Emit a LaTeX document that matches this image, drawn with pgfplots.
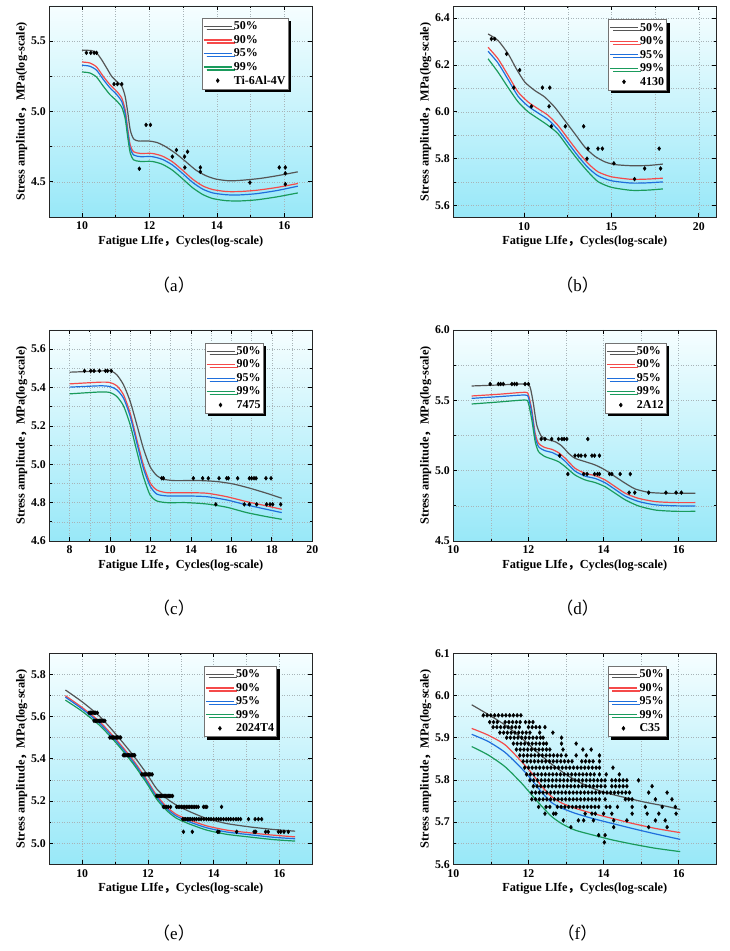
\documentclass[border=0pt]{standalone}
\usepackage{fontspec}
\setmainfont{Liberation Serif}
\newfontfamily\cjk{Noto Sans CJK SC}
\usepackage{pgfplots}
\pgfplotsset{compat=1.18}
\usetikzlibrary{shadows}

\definecolor{c50}{HTML}{555555}
\definecolor{c90}{HTML}{F54A4A}
\definecolor{c95}{HTML}{1F6FDC}
\definecolor{c99}{HTML}{1A9B5C}
\definecolor{bgtop}{HTML}{F6FEFF}
\definecolor{bgbot}{HTML}{98E8F8}
\definecolor{gridc}{HTML}{A8B4B8}

\pgfplotsset{
  panel/.style={
    scale only axis, width=263pt, height=211pt, anchor=south west,
    axis background/.style={top color=bgtop, bottom color=bgbot},
    grid=both,
    grid style={dotted, gridc, line width=0.5pt},
    minor grid style={dotted, gridc, line width=0.5pt},
    major grid style={dotted, gridc, line width=0.5pt},
    minor tick num=1,
    tick align=inside,
    major tick length=4pt, minor tick length=2.2pt,
    every tick/.style={black, line width=0.7pt},
    axis line style={line width=0.9pt, black!85},
    scaled ticks=false,
    /pgf/number format/assume math mode=true,
    tick label style={font=\fontsize{11.8}{13}\selectfont\bfseries},
    xticklabel={\textbf{\pgfmathprintnumber[assume math mode=true]{\tick}}},
    yticklabel={\textbf{\pgfmathprintnumber[assume math mode=true,fixed,fixed zerofill,precision=1]{\tick}}},
    xticklabel style={yshift=-1.5pt},
    xlabel={Fatigue LIfe{\cjk ，}Cycles(log-scale)},
    ylabel={Stress amplitude{\cjk ，}MPa(log-scale)},
    label style={font=\fontsize{12.3}{14}\selectfont\bfseries},
    xlabel style={at={(axis description cs:0.5,-0.117)}, anchor=center},
    ylabel style={at={(axis description cs:-0.105,0.5)}, anchor=center},
    legend cell align=left,
    legend image code/.code={\draw[mark repeat=2,mark phase=2,#1] plot coordinates {(0pt,0pt) (14pt,0pt) (28pt,0pt)};},
    legend style={anchor=north east, draw=black!55, line width=0.5pt, fill=white,
      font=\fontsize{12}{13}\selectfont\bfseries,
      inner xsep=1pt, inner ysep=1.5pt, row sep=0pt,
      nodes={inner xsep=1.5pt, inner ysep=2pt},
      drop shadow={shadow xshift=3pt, shadow yshift=-3pt, fill=black, opacity=1}},
  },
  l50/.style={color=c50, line width=1.2pt, smooth, tension=0.4, no marks},
  l90/.style={color=c90, line width=1.2pt, smooth, tension=0.4, no marks},
  l95/.style={color=c95, line width=1.2pt, smooth, tension=0.4, no marks},
  l99/.style={color=c99, line width=1.2pt, smooth, tension=0.4, no marks},
  pts/.style={only marks, mark=diamond*, mark size=2pt, color=black},
}

\begin{document}
\begin{tikzpicture}
\useasboundingbox (0,0) rectangle (730pt,951pt);

% ---------------- (a) ----------------
\begin{axis}[panel, at={(49.3pt,734pt)}, xmin=9.03, xmax=16.83, ymin=4.25, ymax=5.75,
  xtick={10,12,14,16}, ytick={4.5,5.0,5.5}, legend style={at={(0.909,0.943)}}]
\addplot[l50] coordinates {(10,5.436)(10.28,5.433)(10.43,5.417)(10.58,5.369)(10.73,5.31)(10.88,5.25)(11.03,5.214)(11.18,5.18)(11.28,5.107)(11.36,4.988)(11.43,4.869)(11.53,4.805)(11.68,4.79)(11.98,4.79)(12.23,4.779)(12.48,4.75)(12.78,4.702)(13.08,4.643)(13.38,4.583)(13.68,4.543)(13.98,4.519)(14.38,4.507)(14.78,4.512)(15.28,4.524)(15.78,4.543)(16.4,4.571)};
\addlegendentry{50\%}
\addplot[l90] coordinates {(10,5.352)(10.23,5.345)(10.43,5.317)(10.63,5.25)(10.83,5.19)(11.03,5.143)(11.18,5.095)(11.28,5.012)(11.36,4.869)(11.43,4.762)(11.53,4.714)(11.73,4.702)(12.08,4.702)(12.38,4.683)(12.68,4.643)(12.98,4.583)(13.28,4.519)(13.58,4.471)(13.88,4.445)(14.28,4.431)(14.68,4.431)(15.18,4.44)(15.78,4.46)(16.4,4.488)};
\addlegendentry{90\%}
\addplot[l95] coordinates {(10,5.329)(10.23,5.322)(10.43,5.294)(10.63,5.228)(10.83,5.168)(11.03,5.12)(11.18,5.07)(11.28,4.985)(11.36,4.845)(11.43,4.739)(11.53,4.691)(11.73,4.679)(12.08,4.679)(12.38,4.66)(12.68,4.62)(12.98,4.56)(13.28,4.496)(13.58,4.448)(13.88,4.421)(14.28,4.408)(14.68,4.407)(15.18,4.416)(15.78,4.438)(16.4,4.469)};
\addlegendentry{95\%}
\addplot[l99] coordinates {(10,5.281)(10.23,5.274)(10.43,5.245)(10.63,5.18)(10.83,5.12)(11.03,5.075)(11.18,5.03)(11.28,4.95)(11.36,4.81)(11.43,4.705)(11.53,4.656)(11.73,4.645)(12.08,4.645)(12.38,4.625)(12.68,4.583)(12.98,4.522)(13.28,4.458)(13.58,4.41)(13.88,4.381)(14.28,4.366)(14.68,4.364)(15.18,4.372)(15.78,4.393)(16.4,4.421)};
\addlegendentry{99\%}
\addplot[pts] coordinates {(10.13,5.417)(10.26,5.417)(10.36,5.417)(10.43,5.417)(10.95,5.195)(11.05,5.195)(11.18,5.195)(11.9,4.905)(12.03,4.905)(11.70,4.593)(12.68,4.679)(12.8,4.726)(13.04,4.679)(13.13,4.714)(13.05,4.602)(13.51,4.602)(13.51,4.571)(14.98,4.495)(15.85,4.602)(16.03,4.602)(16.03,4.56)(16.03,4.483)};
\addlegendentry{Ti-6Al-4V}
\end{axis}

% ---------------- (b) ----------------
\begin{axis}[panel, at={(453.3pt,733.7pt)}, xmin=5.95, xmax=21, ymin=5.55, ymax=6.45,
  xtick={10,15,20}, ytick={5.6,5.8,6.0,6.2,6.4}, legend style={at={(0.812,0.938)}}]
\addplot[l50] coordinates {(7.94,6.332)(8.51,6.304)(9.09,6.247)(9.56,6.183)(10.04,6.127)(10.61,6.091)(11.18,6.063)(11.75,6.02)(12.32,5.964)(12.9,5.907)(13.47,5.85)(14.04,5.811)(14.61,5.787)(15.18,5.775)(16.13,5.77)(17.09,5.771)(17.94,5.777)};
\addlegendentry{50\%}
\addplot[l90] coordinates {(7.94,6.275)(8.51,6.226)(9.09,6.155)(9.66,6.084)(10.23,6.042)(10.8,6.013)(11.37,5.985)(11.94,5.942)(12.51,5.886)(13.09,5.829)(13.66,5.78)(14.23,5.744)(14.99,5.723)(16.13,5.712)(17.09,5.713)(17.94,5.717)};
\addlegendentry{90\%}
\addplot[l95] coordinates {(7.94,6.258)(8.51,6.208)(9.09,6.137)(9.66,6.066)(10.23,6.024)(10.8,5.995)(11.37,5.967)(11.94,5.924)(12.51,5.868)(13.09,5.811)(13.66,5.762)(14.23,5.727)(14.99,5.706)(16.13,5.696)(17.09,5.697)(17.94,5.701)};
\addlegendentry{95\%}
\addplot[l99] coordinates {(7.94,6.226)(8.51,6.169)(9.09,6.103)(9.66,6.042)(10.23,6.0)(10.8,5.971)(11.37,5.942)(11.94,5.907)(12.51,5.85)(13.09,5.794)(13.66,5.744)(14.23,5.702)(14.99,5.678)(16.13,5.665)(17.09,5.666)(17.94,5.671)};
\addlegendentry{99\%}
\addplot[pts] coordinates {(8.13,6.311)(8.32,6.311)(9.0,6.247)(9.75,6.178)(9.41,6.103)(11.05,6.103)(11.47,6.103)(10.42,6.023)(11.43,6.023)(11.56,5.938)(12.36,5.938)(13.41,5.938)(13.66,5.843)(14.23,5.843)(14.48,5.843)(13.6,5.8)(15.14,5.78)(16.9,5.758)(17.81,5.758)(17.73,5.843)(16.32,5.713)};
\addlegendentry{4130}
\end{axis}

% ---------------- (c) ----------------
\begin{axis}[panel, at={(49.3pt,410pt)}, xmin=7, xmax=20, ymin=4.6, ymax=5.7,
  xtick={8,10,12,14,16,18,20}, ytick={4.6,4.8,5.0,5.2,5.4,5.6}, legend style={at={(0.814,0.94)}}]
\addplot[l50] coordinates {(8,5.48)(9,5.484)(10,5.487)(10.34,5.466)(10.67,5.414)(11.0,5.327)(11.33,5.205)(11.65,5.083)(11.98,4.988)(12.31,4.941)(12.64,4.922)(13.14,4.915)(13.79,4.915)(14.45,4.915)(15.28,4.91)(16.1,4.897)(16.92,4.875)(17.74,4.849)(18.49,4.823)};
\addlegendentry{50\%}
\addplot[l90] coordinates {(8,5.419)(9.51,5.428)(10,5.426)(10.34,5.409)(10.67,5.362)(11.0,5.266)(11.33,5.127)(11.65,4.997)(11.98,4.904)(12.31,4.866)(12.81,4.852)(13.79,4.852)(14.78,4.849)(15.77,4.831)(16.76,4.805)(17.74,4.783)(18.49,4.765)};
\addlegendentry{90\%}
\addplot[l95] coordinates {(8,5.402)(9.51,5.409)(10,5.405)(10.34,5.388)(10.67,5.344)(11.0,5.249)(11.33,5.11)(11.65,4.979)(11.98,4.887)(12.31,4.845)(12.81,4.835)(13.79,4.835)(14.78,4.831)(15.77,4.814)(16.76,4.788)(17.74,4.765)(18.49,4.748)};
\addlegendentry{95\%}
\addplot[l99] coordinates {(8,5.367)(9.51,5.377)(10,5.374)(10.34,5.353)(10.67,5.304)(11.0,5.205)(11.33,5.066)(11.65,4.936)(11.98,4.84)(12.31,4.809)(12.81,4.8)(13.79,4.8)(14.78,4.793)(15.77,4.776)(16.76,4.748)(17.74,4.727)(18.49,4.713)};
\addlegendentry{99\%}
\addplot[pts] coordinates {(8.74,5.487)(9.05,5.487)(9.21,5.487)(9.48,5.487)(9.78,5.487)(9.88,5.487)(10.06,5.487)
(12.56,4.927)(12.64,4.927)(14.12,4.927)(14.58,4.927)(14.86,4.927)(15.39,4.927)(15.77,4.927)(15.85,4.927)(16.31,4.927)(16.89,4.927)(17.0,4.927)(17.12,4.927)(17.22,4.927)(17.71,4.927)(17.96,4.927)
(15.23,4.791)(16.64,4.791)(16.89,4.791)(17.25,4.791)(17.74,4.791)(17.91,4.791)(18.04,4.791)(18.44,4.791)};
\addlegendentry{7475}
\end{axis}

% ---------------- (d) ----------------
\begin{axis}[panel, at={(453.3pt,410pt)}, xmin=10, xmax=17, ymin=4.5, ymax=6.0,
  xtick={10,12,14,16}, ytick={4.5,5.0,5.5,6.0}, legend style={at={(0.81,0.94)}}]
\addplot[l50] coordinates {(10.49,5.602)(11.2,5.609)(11.91,5.616)(12.04,5.597)(12.13,5.479)(12.22,5.325)(12.34,5.246)(12.49,5.223)(12.71,5.206)(12.89,5.175)(13.07,5.123)(13.24,5.088)(13.51,5.064)(13.78,5.04)(14.04,5.005)(14.31,4.957)(14.58,4.91)(14.84,4.87)(15.2,4.846)(15.64,4.839)(16.44,4.839)};
\addlegendentry{50\%}
\addplot[l90] coordinates {(10.49,5.531)(11.2,5.543)(11.91,5.557)(12.0,5.538)(12.09,5.431)(12.18,5.265)(12.27,5.194)(12.44,5.164)(12.62,5.152)(12.8,5.128)(12.98,5.088)(13.24,5.017)(13.51,4.981)(13.78,4.964)(14.04,4.934)(14.31,4.886)(14.58,4.839)(14.93,4.803)(15.38,4.78)(15.91,4.773)(16.44,4.773)};
\addlegendentry{90\%}
\addplot[l95] coordinates {(10.49,5.514)(11.2,5.526)(11.91,5.538)(12.0,5.519)(12.09,5.41)(12.18,5.24)(12.27,5.17)(12.44,5.142)(12.62,5.13)(12.8,5.106)(12.98,5.066)(13.24,4.997)(13.51,4.961)(13.78,4.944)(14.04,4.914)(14.31,4.866)(14.58,4.818)(14.93,4.781)(15.38,4.757)(15.91,4.75)(16.44,4.749)};
\addlegendentry{95\%}
\addplot[l99] coordinates {(10.49,5.474)(11.2,5.488)(11.91,5.502)(12.0,5.479)(12.09,5.36)(12.18,5.206)(12.27,5.135)(12.44,5.1)(12.62,5.083)(12.8,5.064)(12.98,5.028)(13.24,4.969)(13.51,4.934)(13.78,4.915)(14.04,4.886)(14.31,4.839)(14.58,4.792)(14.93,4.749)(15.38,4.72)(15.91,4.711)(16.44,4.711)};
\addlegendentry{99\%}
\addplot[pts] coordinates {(10.98,5.616)(11.2,5.616)(11.26,5.616)(11.33,5.616)(11.56,5.616)(11.63,5.616)(11.69,5.616)(11.91,5.616)(12.0,5.616)
(12.34,5.225)(12.44,5.225)(12.62,5.225)(12.8,5.225)(12.89,5.225)(12.95,5.225)(13.02,5.225)(13.58,5.225)
(12.83,5.107)(13.24,5.107)(13.33,5.107)(13.4,5.107)(13.51,5.107)(13.69,5.107)(13.76,5.107)(13.89,5.107)
(13.05,4.976)(13.47,4.976)(13.56,4.976)(13.76,4.976)(13.84,4.976)(13.89,4.976)(14.16,4.976)(14.22,4.976)(14.44,4.976)(14.71,4.976)
(14.68,4.844)(14.83,4.844)(15.2,4.844)(15.66,4.844)(15.93,4.844)(16.07,4.844)};
\addlegendentry{2A12}
\end{axis}

% ---------------- (e) ----------------
\begin{axis}[panel, at={(49.3pt,86.7pt)}, xmin=9, xmax=17, ymin=4.9, ymax=5.9,
  xtick={10,12,14,16}, ytick={5.0,5.2,5.4,5.6,5.8}, legend style={at={(0.865,0.94)}}]
\addplot[l50] coordinates {(9.49,5.726)(10,5.67)(10.54,5.6)(11.05,5.512)(11.55,5.417)(11.96,5.33)(12.26,5.259)(12.57,5.212)(12.87,5.18)(13.28,5.149)(13.79,5.117)(14.4,5.093)(15.11,5.077)(15.82,5.065)(16.48,5.057)};
\addlegendentry{50\%}
\addplot[l90] coordinates {(9.49,5.699)(10,5.643)(10.54,5.575)(11.05,5.489)(11.55,5.394)(11.96,5.302)(12.26,5.228)(12.57,5.172)(12.87,5.136)(13.28,5.109)(13.79,5.082)(14.4,5.062)(15.11,5.049)(15.82,5.038)(16.48,5.03)};
\addlegendentry{90\%}
\addplot[l95] coordinates {(9.49,5.692)(10,5.636)(10.54,5.567)(11.05,5.481)(11.55,5.386)(11.96,5.294)(12.26,5.22)(12.57,5.164)(12.87,5.128)(13.28,5.1)(13.79,5.073)(14.4,5.053)(15.11,5.04)(15.82,5.028)(16.48,5.021)};
\addlegendentry{95\%}
\addplot[l99] coordinates {(9.49,5.678)(10,5.625)(10.54,5.557)(11.05,5.472)(11.55,5.377)(11.96,5.285)(12.26,5.21)(12.57,5.155)(12.87,5.118)(13.28,5.09)(13.79,5.062)(14.4,5.042)(15.11,5.029)(15.82,5.017)(16.48,5.01)};
\addlegendentry{99\%}
\addplot[pts] coordinates {
(10.21,5.618)(10.25,5.618)(10.29,5.618)(10.33,5.618)(10.37,5.618)(10.41,5.618)(10.46,5.618)
(10.36,5.58)(10.40,5.58)(10.44,5.58)(10.48,5.58)(10.52,5.58)(10.56,5.58)(10.60,5.58)(10.64,5.58)(10.69,5.58)
(10.84,5.501)(10.88,5.501)(10.92,5.501)(10.96,5.501)(11.00,5.501)(11.04,5.501)(11.08,5.501)(11.12,5.501)(11.17,5.501)
(11.25,5.417)(11.29,5.417)(11.33,5.417)(11.37,5.417)(11.41,5.417)(11.45,5.417)(11.49,5.417)(11.53,5.417)(11.57,5.417)(11.60,5.417)
(11.81,5.326)(11.85,5.326)(11.89,5.326)(11.93,5.326)(11.97,5.326)(12.01,5.326)(12.05,5.326)(12.09,5.326)(12.13,5.326)
(12.26,5.224)(12.30,5.224)(12.34,5.224)(12.38,5.224)(12.42,5.224)(12.46,5.224)(12.50,5.224)(12.54,5.224)(12.58,5.224)(12.62,5.224)(12.66,5.224)(12.70,5.224)(12.75,5.224)
(12.47,5.172)(12.52,5.172)(12.57,5.172)(12.62,5.172)(12.69,5.172)(12.87,5.172)(12.92,5.172)(12.97,5.172)(13.02,5.172)(13.07,5.172)(13.12,5.172)(13.17,5.172)(13.22,5.172)(13.27,5.172)(13.32,5.172)(13.37,5.172)(13.42,5.172)(13.47,5.172)(13.53,5.172)(13.69,5.172)(13.74,5.172)(13.79,5.172)(14.24,5.172)
(13.06,5.114)(13.10,5.114)(13.15,5.114)(13.20,5.114)(13.25,5.114)(13.30,5.114)(13.36,5.114)(13.42,5.114)(13.48,5.114)(13.55,5.114)(13.62,5.114)(13.70,5.114)(13.78,5.114)(13.85,5.114)(13.92,5.114)(14.00,5.114)(14.08,5.114)(14.15,5.114)(14.22,5.114)(14.30,5.114)(14.38,5.114)(14.45,5.114)(14.52,5.114)(14.60,5.114)(14.68,5.114)(14.75,5.114)(14.82,5.114)(15.06,5.114)(15.26,5.114)(15.36,5.114)(15.46,5.114)
(13.08,5.054)(13.35,5.054)(14.12,5.054)(14.16,5.054)(14.70,5.054)(15.23,5.054)(15.28,5.054)(15.58,5.054)(15.66,5.054)(15.97,5.054)(16.04,5.054)(16.14,5.054)(16.27,5.054)};
\addlegendentry{2024T4}
\end{axis}

% ---------------- (f) ----------------
\begin{axis}[panel, at={(453.3pt,86.7pt)}, xmin=10, xmax=17, ymin=5.6, ymax=6.1,
  xtick={10,12,14,16}, ytick={5.6,5.7,5.8,5.9,6.0,6.1}, legend style={at={(0.81,0.94)}}]
\addplot[l50] coordinates {(10.49,5.978)(10.93,5.955)(11.38,5.93)(11.82,5.899)(12.27,5.863)(12.71,5.831)(13.16,5.804)(13.6,5.784)(14.04,5.77)(14.58,5.758)(15.11,5.747)(15.64,5.738)(16.04,5.73)};
\addlegendentry{50\%}
\addplot[l90] coordinates {(10.49,5.922)(10.93,5.906)(11.38,5.883)(11.82,5.843)(12.09,5.816)(12.36,5.784)(12.62,5.76)(12.89,5.745)(13.24,5.733)(13.69,5.721)(14.22,5.709)(14.76,5.697)(15.38,5.685)(16.04,5.675)};
\addlegendentry{90\%}
\addplot[l95] coordinates {(10.49,5.908)(10.93,5.891)(11.38,5.865)(11.82,5.827)(12.09,5.8)(12.36,5.77)(12.62,5.746)(12.89,5.733)(13.24,5.721)(13.69,5.709)(14.22,5.697)(14.76,5.685)(15.38,5.672)(16.04,5.659)};
\addlegendentry{95\%}
\addplot[l99] coordinates {(10.49,5.879)(10.93,5.859)(11.38,5.831)(11.82,5.792)(12.09,5.764)(12.36,5.737)(12.62,5.713)(12.89,5.696)(13.24,5.681)(13.69,5.67)(14.22,5.658)(14.76,5.648)(15.38,5.638)(16.04,5.63)};
\addlegendentry{99\%}
\addplot[pts] coordinates {
(10.80,5.953)(10.90,5.953)(11.00,5.953)(11.10,5.953)(11.20,5.953)(11.30,5.953)(11.40,5.953)(11.50,5.953)(11.60,5.953)(11.70,5.953)(11.80,5.953)
(10.97,5.937)(11.07,5.937)(11.17,5.937)(11.38,5.937)(11.48,5.937)(11.58,5.937)(11.68,5.937)(11.78,5.937)(11.92,5.937)(12.02,5.937)(12.12,5.937)
(11.06,5.925)(11.16,5.925)(11.26,5.925)(11.36,5.925)(11.46,5.925)(11.56,5.925)(11.66,5.925)(11.76,5.925)(12.00,5.925)(12.10,5.925)(12.20,5.925)(12.30,5.925)(12.44,5.925)
(11.24,5.912)(11.34,5.912)(11.44,5.912)(11.54,5.912)(11.64,5.912)(11.74,5.912)(11.84,5.912)(11.94,5.912)(12.04,5.912)(12.30,5.912)(12.65,5.912)
(11.42,5.9)(11.52,5.9)(11.62,5.9)(11.72,5.9)(11.82,5.9)(11.92,5.9)(12.02,5.9)(12.12,5.9)(12.22,5.9)(12.32,5.9)(12.39,5.9)(12.88,5.9)
(11.60,5.886)(11.70,5.886)(11.80,5.886)(11.90,5.886)(12.00,5.886)(12.10,5.886)(12.20,5.886)(12.30,5.886)(12.40,5.886)(12.48,5.886)(12.88,5.886)(13.27,5.886)
(11.68,5.872)(11.78,5.872)(11.88,5.872)(11.98,5.872)(12.08,5.872)(12.18,5.872)(12.28,5.872)(12.38,5.872)(12.48,5.872)(12.57,5.872)(12.92,5.872)(13.45,5.872)(13.67,5.872)
(11.77,5.858)(11.87,5.858)(11.97,5.858)(12.07,5.858)(12.17,5.858)(12.27,5.858)(12.37,5.858)(12.47,5.858)(12.57,5.858)(12.67,5.858)(12.77,5.858)(12.87,5.858)(13.00,5.858)(13.27,5.858)(13.54,5.858)(13.89,5.858)
(11.86,5.844)(11.96,5.844)(12.06,5.844)(12.16,5.844)(12.26,5.844)(12.36,5.844)(12.46,5.844)(12.56,5.844)(12.66,5.844)(12.76,5.844)(12.86,5.844)(12.96,5.844)(13.06,5.844)(13.16,5.844)(13.42,5.844)(13.52,5.844)(13.62,5.844)(13.72,5.844)(13.89,5.844)
(11.90,5.829)(12.00,5.829)(12.10,5.829)(12.20,5.829)(12.30,5.829)(12.40,5.829)(12.50,5.829)(12.60,5.829)(12.70,5.829)(12.80,5.829)(12.90,5.829)(13.00,5.829)(13.10,5.829)(13.20,5.829)(13.30,5.829)(13.40,5.829)(13.50,5.829)(13.60,5.829)(13.70,5.829)(13.80,5.829)(13.89,5.829)(14.25,5.829)
(11.95,5.813)(12.05,5.813)(12.15,5.813)(12.25,5.813)(12.35,5.813)(12.45,5.813)(12.55,5.813)(12.65,5.813)(12.75,5.813)(12.85,5.813)(12.95,5.813)(13.05,5.813)(13.15,5.813)(13.25,5.813)(13.35,5.813)(13.45,5.813)(13.55,5.813)(13.65,5.813)(13.75,5.813)(13.89,5.813)(14.07,5.813)(14.42,5.813)
(12.04,5.799)(12.14,5.799)(12.24,5.799)(12.34,5.799)(12.44,5.799)(12.54,5.799)(12.64,5.799)(12.74,5.799)(12.84,5.799)(12.94,5.799)(13.04,5.799)(13.14,5.799)(13.24,5.799)(13.34,5.799)(13.44,5.799)(13.54,5.799)(13.64,5.799)(13.74,5.799)(13.84,5.799)(13.94,5.799)(14.04,5.799)(14.22,5.799)(14.32,5.799)(14.42,5.799)(14.52,5.799)(14.62,5.799)(14.93,5.799)
(12.13,5.785)(12.23,5.785)(12.33,5.785)(12.43,5.785)(12.53,5.785)(12.63,5.785)(12.73,5.785)(12.83,5.785)(12.93,5.785)(13.03,5.785)(13.13,5.785)(13.23,5.785)(13.33,5.785)(13.43,5.785)(13.53,5.785)(13.63,5.785)(13.73,5.785)(13.83,5.785)(13.93,5.785)(14.04,5.785)(14.22,5.785)(14.32,5.785)(14.42,5.785)(14.52,5.785)(14.62,5.785)(15.29,5.785)
(12.09,5.77)(12.19,5.77)(12.29,5.77)(12.39,5.77)(12.49,5.77)(12.59,5.77)(12.69,5.77)(12.79,5.77)(12.89,5.77)(12.99,5.77)(13.09,5.77)(13.19,5.77)(13.29,5.77)(13.39,5.77)(13.49,5.77)(13.59,5.77)(13.69,5.77)(13.79,5.77)(13.89,5.77)(13.99,5.77)(14.09,5.77)(14.19,5.77)(14.29,5.77)(14.39,5.77)(14.49,5.77)(14.59,5.77)(14.69,5.77)(15.20,5.77)(15.69,5.77)
(12.09,5.754)(12.19,5.754)(12.29,5.754)(12.39,5.754)(12.49,5.754)(12.59,5.754)(12.69,5.754)(12.79,5.754)(12.89,5.754)(12.99,5.754)(13.09,5.754)(13.19,5.754)(13.29,5.754)(13.39,5.754)(13.49,5.754)(13.59,5.754)(13.69,5.754)(13.79,5.754)(13.89,5.754)(14.04,5.754)(14.58,5.754)(14.67,5.754)(14.76,5.754)(15.38,5.754)(15.82,5.754)
(12.27,5.736)(12.47,5.736)(12.57,5.736)(12.77,5.736)(12.87,5.736)(12.97,5.736)(13.07,5.736)(13.17,5.736)(13.27,5.736)(13.37,5.736)(13.47,5.736)(13.57,5.736)(13.67,5.736)(13.77,5.736)(13.87,5.736)(14.07,5.736)(14.17,5.736)(14.37,5.736)(14.76,5.736)(15.11,5.736)(15.56,5.736)(15.91,5.736)
(12.44,5.72)(12.67,5.72)(12.73,5.72)(13.51,5.72)(13.69,5.72)(13.78,5.72)(14.00,5.72)(14.22,5.72)(14.76,5.72)(15.16,5.72)(15.47,5.72)(15.93,5.72)
(12.93,5.704)(13.33,5.704)(13.47,5.704)(13.73,5.704)(14.27,5.704)(14.62,5.704)(15.38,5.704)(15.64,5.704)
(13.13,5.688)(14.27,5.688)(15.20,5.688)(15.69,5.688)
(13.87,5.669)(14.04,5.669)(14.02,5.652)};
\addlegendentry{C35}
\end{axis}

% captions
\tikzset{capt/.style={font=\fontsize{17}{19}\selectfont}}
\node[capt] at (174pt,666pt) {{\cjk （}a{\cjk ）}};
\node[capt] at (577.5pt,666pt) {{\cjk （}b{\cjk ）}};
\node[capt] at (174pt,343pt) {{\cjk （}c{\cjk ）}};
\node[capt] at (577.5pt,343pt) {{\cjk （}d{\cjk ）}};
\node[capt] at (174pt,18pt) {{\cjk （}e{\cjk ）}};
\node[capt] at (577.5pt,18pt) {{\cjk （}f{\cjk ）}};
\end{tikzpicture}
\end{document}
